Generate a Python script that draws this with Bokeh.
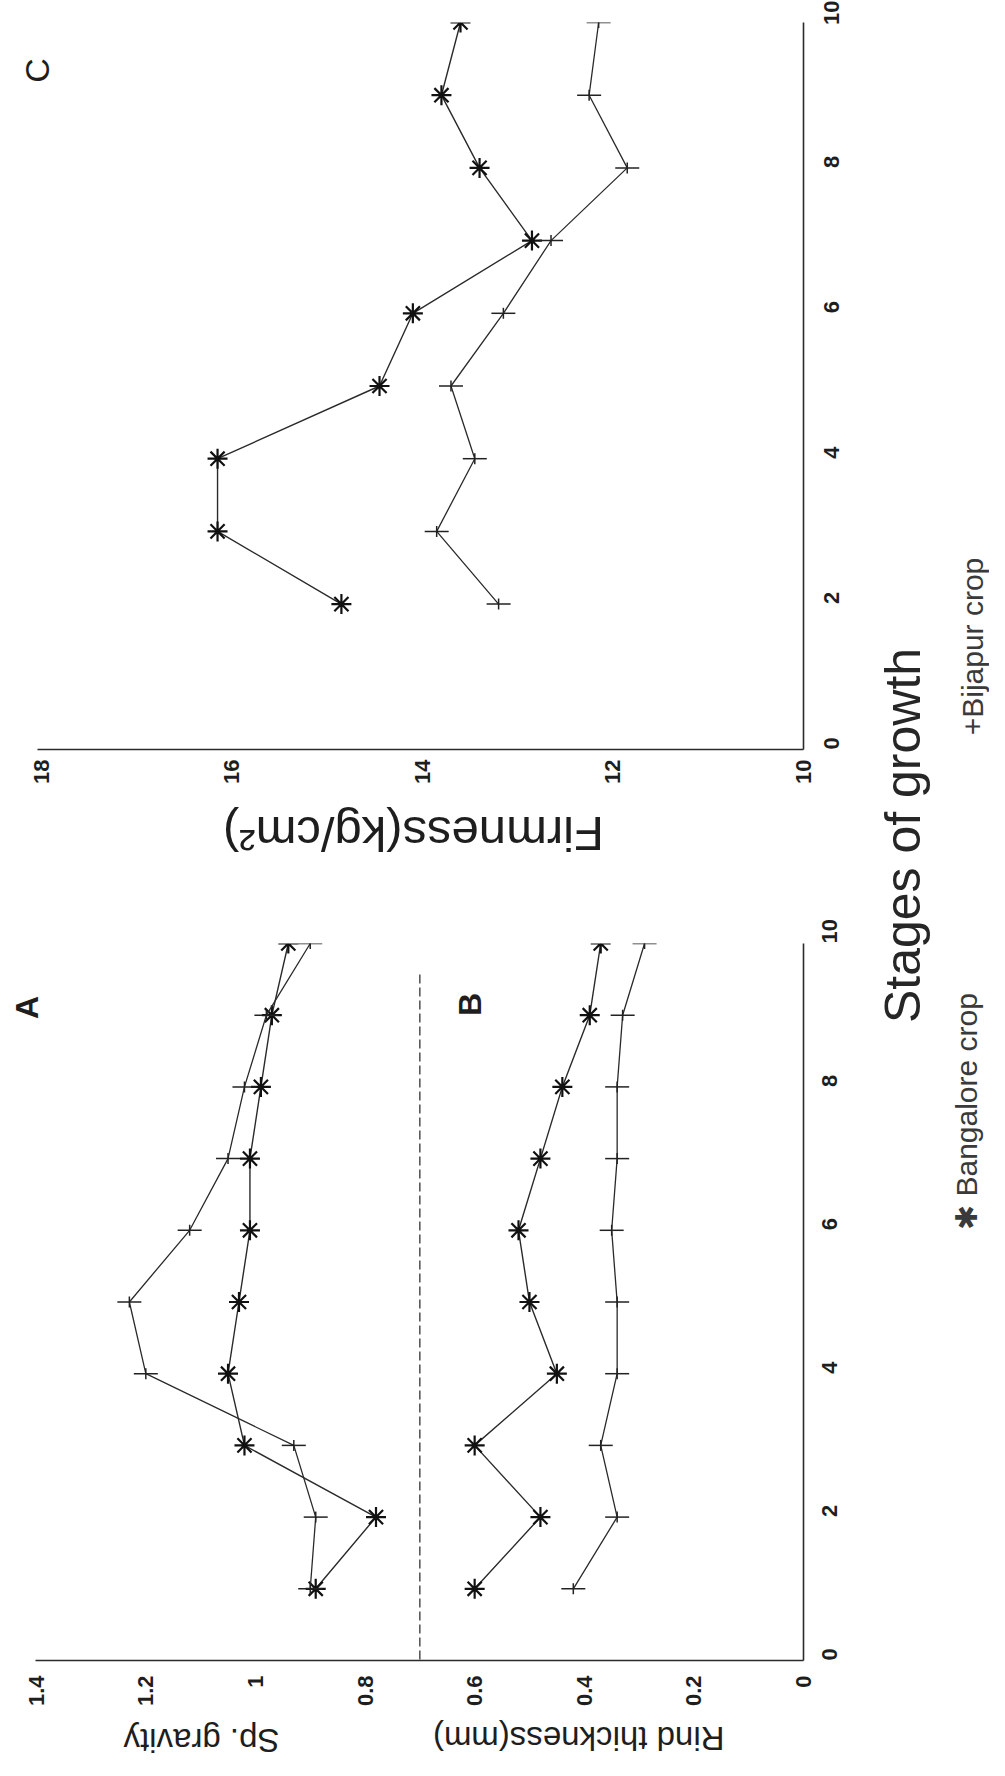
import math
from bokeh.plotting import figure
from bokeh.models import Range1d, FixedTicker, Label, Arrow, CustomJSTickFormatter
from bokeh.layouts import row, column
from bokeh.embed import file_html
from bokeh.resources import INLINE

# ---------------- data ----------------
stages_c = [2, 3, 4, 5, 6, 7, 8, 9, 10]
firm_bangalore = [14.85, 16.15, 16.15, 14.45, 14.1, 12.85, 13.4, 13.8, 13.6]
firm_bijapur = [13.2, 13.85, 13.45, 13.7, 13.15, 12.65, 11.85, 12.25, 12.15]

stages_ab = [1, 2, 3, 4, 5, 6, 7, 8, 9, 10]
spgr_bangalore = [0.89, 0.78, 1.02, 1.05, 1.03, 1.01, 1.01, 0.99, 0.97, 0.94]
spgr_bijapur = [0.90, 0.89, 0.93, 1.20, 1.23, 1.12, 1.05, 1.02, 0.98, 0.90]
rind_bangalore = [0.60, 0.48, 0.60, 0.45, 0.50, 0.52, 0.48, 0.44, 0.39, 0.37]
rind_bijapur = [0.42, 0.34, 0.37, 0.34, 0.34, 0.35, 0.34, 0.34, 0.33, 0.29]

stage_ticks = [0, 2, 4, 6, 8, 10]
firm_ticks = [10, 12, 14, 16, 18]
ab_ticks = [0, 0.2, 0.4, 0.6, 0.8, 1, 1.2, 1.4]
ab_divider = 0.7

# ---------------- layout constants (page px) ----------------
LEFT_W, RIGHT_W = 862, 127
C_H, MID_H, AB_H, BOT_H = 800, 92, 820, 48      # page y: 8-808, 808-900, 900-1720, 1720-1768
FONT = "Liberation Sans"
INK = "#1e1e1e"
LINE = "#2a2a2a"

num_fmt = CustomJSTickFormatter(code="""
    return (Math.abs(tick - Math.round(tick)) < 1e-9) ? tick.toFixed(0) : tick.toFixed(1);
""")


def style_axis(ax, ticks, standoff, bounds=None):
    ax.ticker = FixedTicker(ticks=ticks)
    ax.formatter = num_fmt
    ax.major_tick_out = 0
    ax.major_tick_in = 0
    ax.minor_tick_out = 0
    ax.minor_tick_in = 0
    ax.axis_line_color = "#2b2b2b"
    ax.axis_line_width = 1.6
    ax.major_label_orientation = math.pi / 2
    ax.major_label_standoff = standoff
    ax.major_label_text_font = FONT
    ax.major_label_text_font_size = "22px"
    ax.major_label_text_font_style = "bold"
    ax.major_label_text_color = INK
    if bounds is not None:
        ax.bounds = bounds


def base_fig(w, h, xr, yr, bl, br, bt, bb):
    p = figure(width=w, height=h, x_range=xr, y_range=yr,
               x_axis_location="below", y_axis_location="right",
               title=None, toolbar_location=None, output_backend="svg",
               min_border_left=bl, min_border_right=br,
               min_border_top=bt, min_border_bottom=bb)
    p.outline_line_color = None
    p.xgrid.grid_line_color = None
    p.ygrid.grid_line_color = None
    p.background_fill_color = "white"
    p.border_fill_color = "white"
    return p


def strip_fig(w, h, x0, x1, ytop, ybot):
    # blank figure whose data coordinates equal page pixels
    p = figure(width=w, height=h, x_range=Range1d(x0, x1), y_range=Range1d(ybot, ytop),
               x_axis_type=None, y_axis_type=None, title=None,
               toolbar_location=None, output_backend="svg", min_border=0)
    p.outline_line_color = None
    p.background_fill_color = "white"
    p.border_fill_color = "white"
    return p


def add_text(p, x, y, text, size, angle, color=INK, bold=False):
    p.add_layout(Label(x=x, y=y, text=text, angle=angle,
                       text_align="center", text_baseline="middle",
                       text_font=FONT, text_font_size=f"{size}px",
                       text_color=color,
                       text_font_style="bold" if bold else "normal"))


def star_series(p, xs, ys):
    p.line(xs, ys, line_color=LINE, line_width=1.4)
    p.scatter(xs, ys, marker="asterisk", size=20, line_color="#111111", line_width=2.2)


def plus_series(p, xs, ys):
    p.line(xs, ys, line_color=LINE, line_width=1.3)
    p.scatter(xs, ys, marker="dash", size=24, line_color="#222222", line_width=1.5)
    p.scatter(xs, ys, marker="dash", angle=math.pi / 2, size=11, line_color="#222222", line_width=1.5)


# ---------------- panel C (firmness) ----------------
# frame: page x 20..817 (18 at x=49), page y 30..757
C_X0 = 18 + (49 - 20) / 96.0
pc = base_fig(LEFT_W, C_H, Range1d(C_X0, 10), Range1d(0, 10), 12, 53, 22, 51)
style_axis(pc.xaxis[0], firm_ticks, 10, bounds=(10, 18.04))
style_axis(pc.yaxis[0], stage_ticks, 28)
star_series(pc, firm_bangalore, stages_c)
plus_series(pc, firm_bijapur, stages_c)

cx = lambda xp: 18 - (xp - 49) / 96.0
cy = lambda yp: (757 - yp) / 72.7
add_text(pc, cx(45), cy(78), "C", 34, math.pi / 2)

# strip between C and A/B: firmness title (upside down)
pmid = strip_fig(LEFT_W, MID_H, 8, 8 + LEFT_W, 808, 900)
add_text(pmid, 445, 841, "Firmness(kg/cm\u00b2)", 49, math.pi)

# ---------------- panels A and B ----------------
# frame: page x 10..811 (1.4 at x=34), page y 951..1668
AB_X0 = 1.4 + (34 - 10) / 555.0
pab = base_fig(LEFT_W, AB_H, Range1d(AB_X0, 0), Range1d(0, 10), 2, 59, 51, 52)
style_axis(pab.xaxis[0], ab_ticks, 15, bounds=(0, 1.402))
style_axis(pab.yaxis[0], stage_ticks, 26)
star_series(pab, spgr_bangalore, stages_ab)
plus_series(pab, spgr_bijapur, stages_ab)
star_series(pab, rind_bangalore, stages_ab)
plus_series(pab, rind_bijapur, stages_ab)

ax_ = lambda xp: 1.4 - (xp - 34) / 555.0
ay_ = lambda yp: (1668 - yp) / 71.7
pab.add_layout(Arrow(end=None, x_start=ab_divider, y_start=ay_(982),
                     x_end=ab_divider, y_end=ay_(1700),
                     line_color="#333333", line_width=1.3, line_dash="9 4"))
add_text(pab, ax_(25), ay_(1015), "A", 32, math.pi / 2, bold=True)
add_text(pab, ax_(473), ay_(1012), "B", 32, math.pi / 2, bold=True)

# bottom strip: axis titles of A and B (upside down)
pbot = strip_fig(LEFT_W, BOT_H, 8, 8 + LEFT_W, 1720, 1768)
add_text(pbot, 214, 1748, "Sp. gravity", 33, math.pi)
add_text(pbot, 625, 1746, "Rind thickness(mm)", 33, math.pi)

# ---------------- right strip: shared title and legend ----------------
pt = strip_fig(RIGHT_W, C_H + MID_H + AB_H + BOT_H, 870, 997, 8, 1768)
add_text(pt, 910, 843, "Stages of growth", 50, math.pi / 2, color="#262626")
add_text(pt, 980, 654, "+Bijapur crop", 30, math.pi / 2, color="#3a3a3a")
add_text(pt, 974, 1119, "\u2731 Bangalore crop", 30, math.pi / 2, color="#3a3a3a")

layout = row(column(pc, pmid, pab, pbot, spacing=0), pt, spacing=0)
open("out.html", "w").write(file_html(layout, INLINE))
